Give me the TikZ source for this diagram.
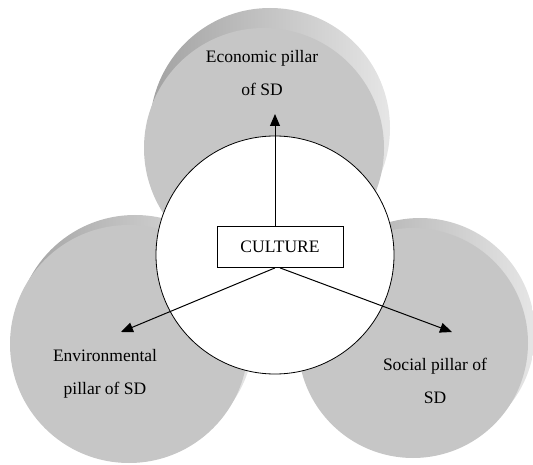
\documentclass[tikz,border=0pt]{standalone}
\usepackage{fontspec}
\setmainfont{Liberation Serif}
\usetikzlibrary{arrows.meta}
\definecolor{faceg}{HTML}{C6C6C6}
\definecolor{sidedark}{HTML}{A2A2A2}
\definecolor{sidelight}{HTML}{E6E6E6}
\tikzset{
  side/.style={circle, minimum size=#1, inner sep=0pt, left color=sidedark, right color=sidelight, draw=none},
  face/.style={circle, minimum size=#1, inner sep=0pt, fill=faceg, draw=none},
  lbl/.style={font=\fontsize{17.5}{33}\selectfont, align=center, inner sep=0pt},
  arr/.style={line width=1pt, -{Triangle[length=12pt,width=10pt]}},
}
\begin{document}
\begin{tikzpicture}[x=1pt,y=-1pt]
\useasboundingbox (0,0) rectangle (533,465);
% top disc
\node[side=240pt] (ecoside) at (270,128) {};
\node[face=240pt] (eco) at (264,148) {};
% left disc
\node[side=238pt] (envside) at (135,334) {};
\node[face=238pt] (env) at (129,344) {};
% right disc
\node[side=230pt] (socside) at (420,333) {};
\node[face=230pt] (soc) at (413,343) {};
% central circle
\node[circle, minimum size=238pt, inner sep=0pt, fill=white, draw=black, line width=0.8pt] (core) at (275,255) {};
% culture box
\node[draw=black, fill=white, line width=0.8pt, minimum width=126pt, minimum height=41pt, inner sep=0pt, font=\fontsize{17.5}{20}\selectfont] (cult) at (280,247) {CULTURE};
% labels
\node[lbl] (ecol) at (262,73) {Economic pillar\\of SD};
\node[lbl] (envl) at (105,374) {Environmental\\pillar of SD};
\node[lbl] (socl) at (435,381) {Social pillar of\\SD};
% arrow ends
\coordinate (tipE) at (275,114);
\coordinate (tipL) at (121,332);
\coordinate (tipR) at (452,332);
\coordinate (sU) at ([xshift=-5pt]cult.north);
\coordinate (sL) at ([xshift=-5pt]cult.south);
\coordinate (sR) at (cult.south);
\draw[arr] (sU) -- (tipE);
\draw[arr] (sL) -- (tipL);
\draw[arr] (sR) -- (tipR);
\end{tikzpicture}
\end{document}
